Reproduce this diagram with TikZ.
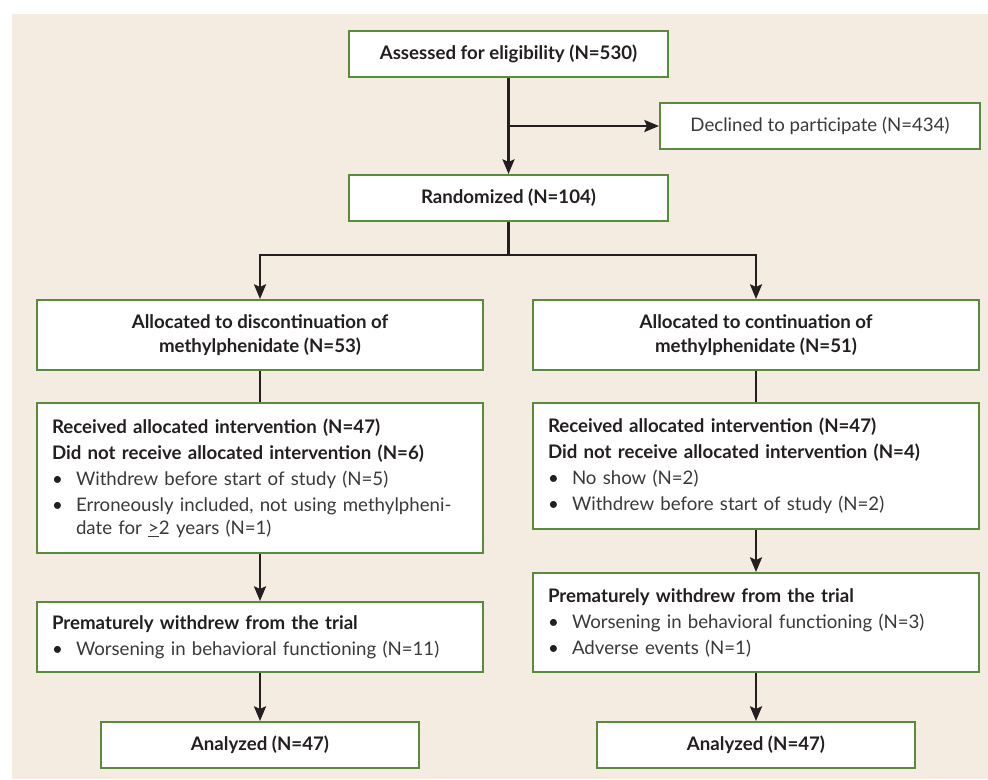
\documentclass[tikz,border=0pt]{standalone}
\usepackage{fontspec}
\setmainfont{Lato}
\usetikzlibrary{arrows.meta}

\definecolor{beige}{HTML}{F4ECE0}
\definecolor{verde}{HTML}{5A8A3C}
\definecolor{testo}{HTML}{231F20}
\definecolor{grigio}{HTML}{3A3A3A}

% bullet item inside the boxes
\newcommand{\voce}[1]{\makebox[18pt][l]{\textbullet}{\color{grigio}#1}}

\begin{document}
\begin{tikzpicture}[
  x=0.75pt,
  y=-0.75pt,
  box/.style={draw=verde, line width=1.5pt, fill=white, text=testo, inner sep=0pt},
  titolo/.style={box, font=\bfseries\fontsize{14}{18}\selectfont, align=center},
  piccolo/.style={titolo, minimum width=239.25pt, minimum height=34.5pt},
  lista/.style={box, align=left, text width=312pt, inner xsep=11.25pt,
    font=\fontsize{14}{19.5}\selectfont},
  conn/.style={line width=1.9pt, draw=testo},
  freccia/.style={conn, -{Stealth[length=11pt, width=9pt, inset=2pt]}}
  ]
    % background
    \useasboundingbox (0,0) rectangle (988,779);
    \fill[beige] (12,14) rectangle (988,779);

    % top
    \node[piccolo] (assess) at (508.5,53.5) {Assessed for eligibility (N=530)};
    \node[piccolo, minimum width=240pt, font=\fontsize{14}{18}\selectfont] (declined) at (820,126)
      {\color{grigio}Declined to participate (N=434)};
    \node[piccolo] (random) at (508.5,198) {Randomized (N=104)};

    \coordinate (bivio) at (assess.south |- declined.west);
    \coordinate (split) at (508.5,255);

%left arm
    \node[titolo, minimum width=334.5pt, minimum height=52.5pt] (allocL) at (260,335)
      {Allocated to discontinuation of\\methylphenidate (N=53)};
    \node[lista, minimum height=112.5pt] (recvL) at (260,478)
      {{\bfseries Received allocated intervention (N=47)}\\
       {\bfseries Did not receive allocated intervention (N=6)}\\
       \voce{Withdrew before start of study (N=5)}\\
       \voce{Erroneously included, not using methylpheni-}\\[-2pt]
       \hspace*{18pt}{\color{grigio}date for \underline{>}2 years (N=1)}};
    \node[lista, minimum height=52.5pt] (premL) at (260,637)
      {{\bfseries Prematurely withdrew from the trial}\\
       \voce{Worsening in behavioral functioning (N=11)}};
    \node[piccolo, minimum width=238.5pt] (analL) at (260,745) {Analyzed (N=47)};

%right arm
    \node[titolo, minimum width=334.5pt, minimum height=52.5pt] (allocR) at (756,335)
      {Allocated to continuation of\\methylphenidate (N=51)};
    \node[lista, minimum height=94.5pt] (recvR) at (756,466)
      {{\bfseries Received allocated intervention (N=47)}\\
       {\bfseries Did not receive allocated intervention (N=4)}\\
       \voce{No show (N=2)}\\
       \voce{Withdrew before start of study (N=2)}};
    \node[lista, minimum height=74.25pt] (premR) at (756,622.5)
      {{\bfseries Prematurely withdrew from the trial}\\
       \voce{Worsening in behavioral functioning (N=3)}\\
       \voce{Adverse events (N=1)}};
    \node[piccolo, minimum width=238.5pt] (analR) at (756,745) {Analyzed (N=47)};

    % connectors
    \draw[freccia] (assess) -- (random);
    \draw[freccia] (bivio) -- (declined.west);
    \draw[conn] (random) -- (split);
    \draw[freccia] (split) -| (allocL.north);
    \draw[freccia] (split) -| (allocR.north);

    \draw[conn] (allocL) -- (recvL);
    \draw[freccia] (recvL) -- (premL);
    \draw[freccia] (premL) -- (analL);

    \draw[conn] (allocR) -- (recvR);
    \draw[freccia] (recvR) -- (premR);
    \draw[freccia] (premR) -- (analR);

\end{tikzpicture}
\end{document}
